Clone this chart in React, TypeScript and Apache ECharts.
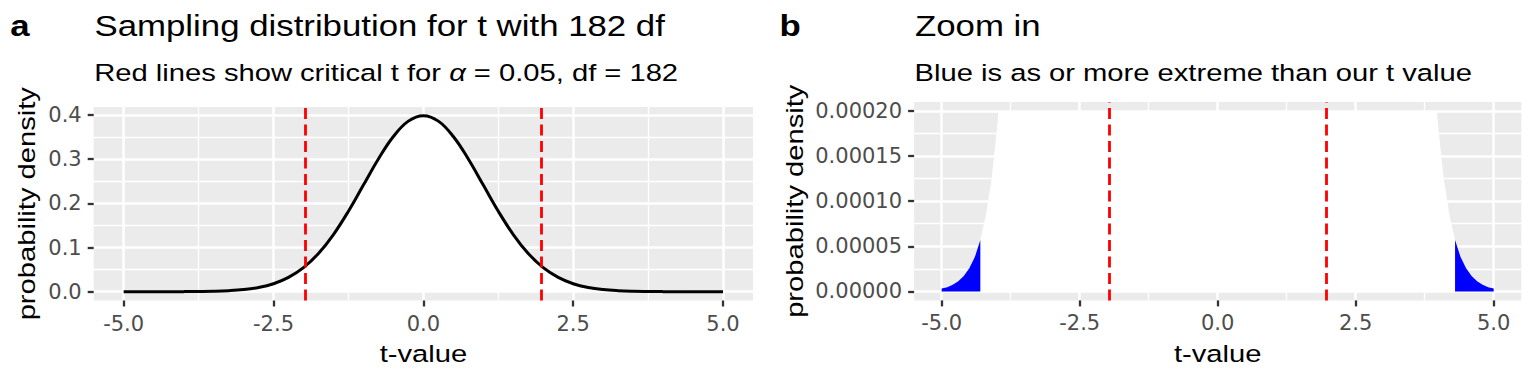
import React, { useEffect, useRef } from 'react';
import * as echarts from 'echarts';

// t-values (x) and probability density of t with 182 df
const tValues = [
  -5, -4.9, -4.8, -4.7, -4.6, -4.5, -4.4, -4.3, -4.2, -4.1, -4, -3.97, -3.95, -3.9,
  -3.75, -3.5, -3.25, -3, -2.75, -2.5, -2.25, -2, -1.75, -1.5, -1.25, -1, -0.75, -0.5, -0.25,
  0,
  0.25, 0.5, 0.75, 1, 1.25, 1.5, 1.75, 2, 2.25, 2.5, 2.75, 3, 3.25, 3.5, 3.75,
  3.9, 3.95, 3.97, 4, 4.1, 4.2, 4.3, 4.4, 4.5, 4.6, 4.7, 4.8, 4.9, 5,
];
const density = [
  0.0000031, 0.0000047, 0.0000073, 0.0000112, 0.000017, 0.0000256, 0.000038, 0.000057, 0.000084, 0.000123, 0.000179, 0.0002, 0.000215, 0.000258,
  0.00044, 0.00103, 0.0023, 0.0048, 0.0096, 0.0181, 0.0324, 0.0545, 0.0865, 0.1294, 0.1822, 0.2413, 0.3004, 0.3513, 0.3861,
  0.3984,
  0.3861, 0.3513, 0.3004, 0.2413, 0.1822, 0.1294, 0.0865, 0.0545, 0.0324, 0.0181, 0.0096, 0.0048, 0.0023, 0.00103, 0.00044,
  0.000258, 0.000215, 0.0002, 0.000179, 0.000123, 0.000084, 0.000057, 0.000038, 0.0000256, 0.000017, 0.0000112, 0.0000073, 0.0000047, 0.0000031,
];
const criticalT = [-1.973, 1.973];
const observedT = 4.3;
const zoomCap = 0.0002;

const xMajorTicks = [-5, -2.5, 0, 2.5, 5];
const xMinorTicks = [-3.75, -1.25, 1.25, 3.75];
const yMajorTicksA = [0, 0.1, 0.2, 0.3, 0.4];
const yMinorTicksA = [0.05, 0.15, 0.25, 0.35];
const yMajorTicksB = [0, 0.00005, 0.0001, 0.00015, 0.0002];
const yMinorTicksB = [0.000025, 0.000075, 0.000125, 0.000175];

const titleA = 'Sampling distribution for t with 182 df';
const subtitleA = 'Red lines show critical t for {it|α} = 0.05, df = 182';
const titleB = 'Zoom in';
const subtitleB = 'Blue is as or more extreme than our t value';
const xName = 't-value';
const yName = 'probability density';

const TEXT_SCALE = 1.2;
const FONT = 'Liberation Sans';
const TICK_FONT = 'DejaVu Sans';
const TITLE_SIZE = 29;
const BODY_SIZE = 24.3;

function majorAxis(dim: 'x' | 'y', gridIndex: number, min: number, max: number, ticks: number[], fmt: (v: number) => string) {
  return {
    type: 'value',
    gridIndex,
    min,
    max,
    position: dim === 'x' ? 'bottom' : 'left',
    axisLine: { show: false, onZero: false },
    axisTick: { show: true, inside: false, length: 6, customValues: ticks, lineStyle: { color: '#333333', width: 2.3 } },
    axisLabel: {
      show: true,
      customValues: ticks,
      formatter: (v: number) => fmt(v),
      color: '#4D4D4D',
      fontSize: 21,
      fontFamily: TICK_FONT,
      margin: dim === 'x' ? 12.5 : 12,
    },
    splitLine: { show: true, lineStyle: { color: '#FFFFFF', width: 2.5 } },
    minorTick: { show: false },
    minorSplitLine: { show: false },
  };
}

function minorAxis(dim: 'x' | 'y', gridIndex: number, min: number, max: number, ticks: number[]) {
  return {
    type: 'value',
    gridIndex,
    min,
    max,
    position: dim === 'x' ? 'top' : 'right',
    axisLine: { show: false, onZero: false },
    axisTick: { show: false, customValues: ticks },
    axisLabel: { show: false, customValues: ticks },
    splitLine: { show: true, lineStyle: { color: '#FFFFFF', width: 1.3 } },
  };
}

function txt(text: string, x: number, y: number, size: number, extra: any = {}) {
  return {
    type: 'text',
    x,
    y,
    scaleX: TEXT_SCALE,
    rotation: extra.rotation || 0,
    silent: true,
    style: {
      text,
      fill: '#000000',
      fontSize: size,
      fontFamily: FONT,
      fontWeight: extra.bold ? 'bold' : 'normal',
      align: extra.align || 'left',
      textAlign: extra.align || 'left',
      verticalAlign: 'middle',
      textVerticalAlign: 'middle',
      rich: extra.rich,
    },
  };
}

export default function App() {
  const ref = useRef<HTMLDivElement>(null);

  useEffect(() => {
    if (!ref.current) return;
    const chart = echarts.init(ref.current, null, { renderer: 'svg' });

    const fullData = tValues.map((t, i) => [t, density[i]]);
    const cappedData = tValues.map((t, i) => [t, Math.min(density[i], zoomCap)]);
    const blueLeft = tValues.map((t, i) => [t, density[i]]).filter((p) => p[0] <= -observedT);
    const blueRight = tValues.map((t, i) => [t, density[i]]).filter((p) => p[0] >= observedT);

    const redLines = {
      silent: true,
      symbol: ['none', 'none'],
      label: { show: false },
      lineStyle: { color: '#FF0000', width: 2.8, type: [11, 5.5], opacity: 1 },
      data: criticalT.map((v) => ({ xAxis: v })),
      animation: false,
    };

    const gridA = { left: 93.7, top: 106.9, width: 659.3, height: 193.6 };
    const gridB = { left: 914.1, top: 101.9, width: 607.2, height: 198.5 };

    const option: any = {
      animation: false,
      backgroundColor: '#FFFFFF',
      grid: [
        { ...gridA, show: true, backgroundColor: '#EBEBEB', borderWidth: 0, containLabel: false, outerBoundsMode: 'none' },
        { ...gridB, show: true, backgroundColor: '#EBEBEB', borderWidth: 0, containLabel: false, outerBoundsMode: 'none' },
      ],
      xAxis: [
        majorAxis('x', 0, -5.5, 5.5, xMajorTicks, (v) => v.toFixed(1)),
        minorAxis('x', 0, -5.5, 5.5, xMinorTicks),
        majorAxis('x', 1, -5.5, 5.5, xMajorTicks, (v) => v.toFixed(1)),
        minorAxis('x', 1, -5.5, 5.5, xMinorTicks),
      ],
      yAxis: [
        majorAxis('y', 0, -0.0199, 0.4183, yMajorTicksA, (v) => v.toFixed(1)),
        minorAxis('y', 0, -0.0199, 0.4183, yMinorTicksA),
        majorAxis('y', 1, -0.00001, 0.00021, yMajorTicksB, (v) => v.toFixed(5)),
        minorAxis('y', 1, -0.00001, 0.00021, yMinorTicksB),
      ],
      series: [
        {
          type: 'line',
          xAxisIndex: 0,
          yAxisIndex: 0,
          data: fullData,
          symbol: 'none',
          showSymbol: false,
          smooth: 0.4,
          lineStyle: { color: '#000000', width: 3 },
          areaStyle: { color: '#FFFFFF', opacity: 1 },
          z: 3,
          markLine: redLines,
        },
        {
          type: 'line',
          xAxisIndex: 2,
          yAxisIndex: 2,
          data: cappedData,
          symbol: 'none',
          showSymbol: false,
          lineStyle: { width: 0, opacity: 0 },
          areaStyle: { color: '#FFFFFF', opacity: 1 },
          z: 2,
          markLine: redLines,
        },
        {
          type: 'line',
          xAxisIndex: 2,
          yAxisIndex: 2,
          data: blueLeft,
          symbol: 'none',
          showSymbol: false,
          lineStyle: { width: 0, opacity: 0 },
          areaStyle: { color: '#0000FF', opacity: 1 },
          z: 3,
        },
        {
          type: 'line',
          xAxisIndex: 2,
          yAxisIndex: 2,
          data: blueRight,
          symbol: 'none',
          showSymbol: false,
          lineStyle: { width: 0, opacity: 0 },
          areaStyle: { color: '#0000FF', opacity: 1 },
          z: 3,
        },
      ],
      graphic: {
        elements: [
          txt('a', 10.3, 26, TITLE_SIZE, { bold: true }),
          txt(titleA, 94.5, 26, TITLE_SIZE),
          txt(subtitleA, 94.3, 73.1, BODY_SIZE, {
            rich: { it: { fontStyle: 'italic', fontSize: BODY_SIZE, fontFamily: FONT, fill: '#000000' } },
          }),
          txt('b', 779.5, 26, TITLE_SIZE, { bold: true }),
          txt(titleB, 915, 26, TITLE_SIZE),
          txt(subtitleB, 914.6, 73.1, BODY_SIZE),
          txt(xName, 423.4, 354.3, BODY_SIZE, { align: 'center' }),
          txt(xName, 1217.7, 354.3, BODY_SIZE, { align: 'center' }),
          txt(yName, 26.7, 203.7, BODY_SIZE, { align: 'center', rotation: Math.PI / 2 }),
          txt(yName, 795, 201.2, BODY_SIZE, { align: 'center', rotation: Math.PI / 2 }),
        ],
      },
    };

    chart.setOption(option);
    return () => chart.dispose();
  }, []);

  return (
    <div
      ref={ref}
      style={{ position: 'fixed', left: 0, top: 0, width: 1536, height: 384, background: '#FFFFFF' }}
    />
  );
}
